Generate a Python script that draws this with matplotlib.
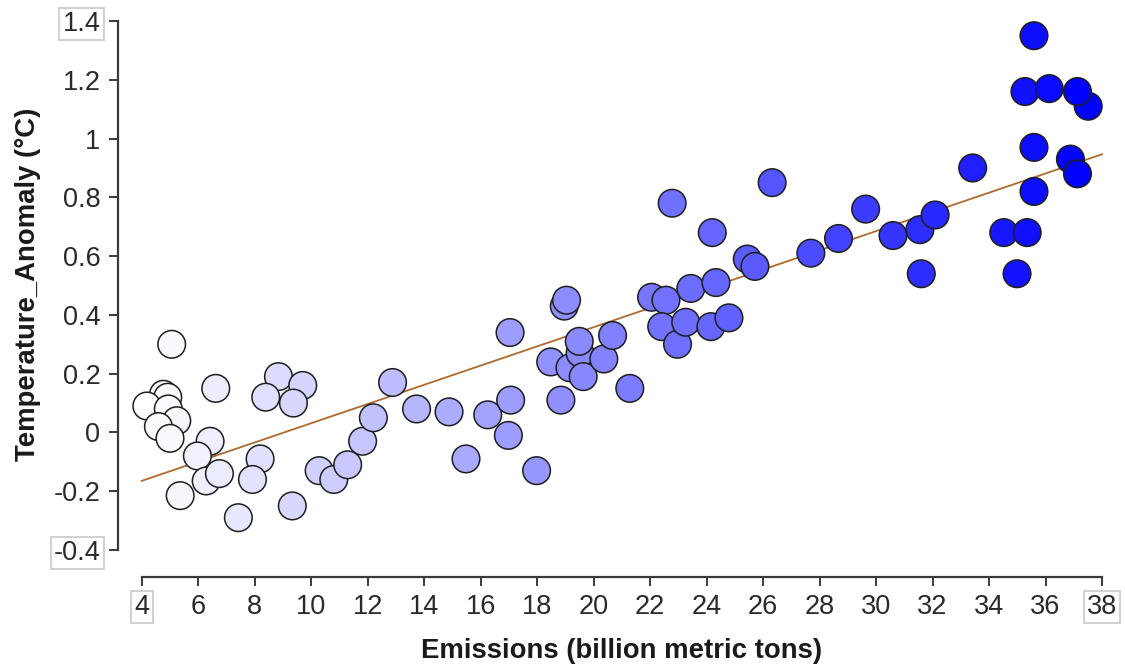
import numpy as np
import matplotlib
matplotlib.use("Agg")
import matplotlib.pyplot as plt
from matplotlib.colors import LinearSegmentedColormap, Normalize

plt.rcParams['font.family'] = ['Liberation Sans', 'DejaVu Sans']

# ---- data ----
emissions = [5.06, 6.62, 4.77, 4.92, 4.18, 4.94, 5.24, 4.59, 5.00, 6.42,
             5.97, 6.28, 6.75, 5.36, 7.42, 8.84, 9.70, 8.39, 9.37, 8.19,
             7.92, 9.33, 10.28, 10.80, 11.29, 11.82, 12.20, 12.88, 13.73, 14.88,
             15.48, 16.25, 17.06, 16.98, 17.98, 17.04, 18.96, 19.04, 18.48, 18.84,
             19.16, 19.52, 19.63, 19.49, 20.36, 20.67, 21.28, 22.05, 22.56, 22.41,
             22.97, 23.26, 23.44, 24.15, 24.33, 24.79, 22.78, 24.20, 25.44, 25.71,
             26.32, 27.69, 28.67, 29.63, 30.60, 31.55, 32.09, 31.60, 33.42, 34.52,
             35.35, 34.99, 35.59, 35.59, 36.88, 37.13, 35.27, 36.13, 37.51, 37.13,
             35.59]
anomaly = [0.30, 0.15, 0.13, 0.12, 0.09, 0.08, 0.04, 0.02, -0.02, -0.03,
           -0.08, -0.165, -0.14, -0.215, -0.29, 0.19, 0.16, 0.12, 0.10, -0.09,
           -0.16, -0.25, -0.13, -0.16, -0.11, -0.03, 0.05, 0.17, 0.08, 0.07,
           -0.09, 0.06, 0.11, -0.01, -0.13, 0.34, 0.43, 0.45, 0.24, 0.11,
           0.22, 0.27, 0.19, 0.31, 0.25, 0.33, 0.15, 0.46, 0.45, 0.36,
           0.30, 0.375, 0.49, 0.36, 0.51, 0.39, 0.78, 0.68, 0.59, 0.565,
           0.85, 0.61, 0.66, 0.76, 0.67, 0.69, 0.74, 0.54, 0.90, 0.68,
           0.68, 0.54, 0.82, 0.97, 0.93, 0.88, 1.16, 1.17, 1.11, 1.16,
           1.35]

xticks = [4, 6, 8, 10, 12, 14, 16, 18, 20, 22, 24, 26, 28, 30, 32, 34, 36, 38]
xticklabels = [str(v) for v in xticks]
yticks = [1.4, 1.2, 1.0, 0.8, 0.6, 0.4, 0.2, 0.0, -0.2, -0.4]
yticklabels = ['1.4', '1.2', '1', '0.8', '0.6', '0.4', '0.2', '0', '-0.2', '-0.4']

x_label = 'Emissions (billion metric tons)'
y_label = 'Temperature_Anomaly (°C)'

# ---- figure ----
fig = plt.figure(figsize=(11.25, 6.67), dpi=100)
ax = fig.add_axes([0.126, 0.1754, 0.8536, 0.7931])

x = np.array(emissions)
y = np.array(anomaly)

cmap = LinearSegmentedColormap.from_list('wb', ['#ffffff', '#0000ff'])
norm = Normalize(vmin=x.min(), vmax=x.max())

ax.scatter(x, y, s=395, c=cmap(norm(x)), edgecolors='#1e1e1e',
           linewidths=1.1, zorder=3, clip_on=False)

# regression line
slope, intercept = np.polyfit(x, y, 1)
xl = np.array([4, 38])
ax.plot(xl, slope * xl + intercept, color='#ad6a30', lw=1.3, zorder=2,
        clip_on=False)

ax.set_xlim(4, 38)
ax.set_ylim(-0.4, 1.4)

for s in ['top', 'right']:
    ax.spines[s].set_visible(False)
ax.spines['left'].set_position(('outward', 17.1))
ax.spines['bottom'].set_position(('outward', 19.4))
ax.spines['left'].set_bounds(-0.4, 1.4)
ax.spines['bottom'].set_bounds(4, 38)
for s in ['left', 'bottom']:
    ax.spines[s].set_color('#3a3a3a')
    ax.spines[s].set_linewidth(1.6)

ax.set_xticks(xticks, labels=xticklabels)
ax.set_yticks(yticks, labels=yticklabels)
ax.tick_params(axis='both', length=6.3, width=1.4, color='#3a3a3a',
               labelsize=19.5, labelcolor='#2a2a2a')
ax.tick_params(axis='y', pad=6.3)
ax.tick_params(axis='x', pad=6.0)

box = dict(facecolor='none', edgecolor='#c8c8c8', boxstyle='square,pad=0.12',
           linewidth=1.2)
for t in ax.get_xticklabels():
    if t.get_text() in ('4', '38'):
        t.set_bbox(box)
for t in ax.get_yticklabels():
    if t.get_text() in ('1.4', '-0.4'):
        t.set_bbox(box)

fig.text(0.5525, 667 and 9 / 667, x_label, ha='center', va='baseline',
         fontsize=19.8, fontweight='bold', color='#1a1a1a')
fig.text(0.025, 0.574, y_label, ha='center', va='center', rotation=90,
         fontsize=19.8, fontweight='bold', color='#1a1a1a')

fig.savefig('out.png', dpi=100, facecolor='white')
